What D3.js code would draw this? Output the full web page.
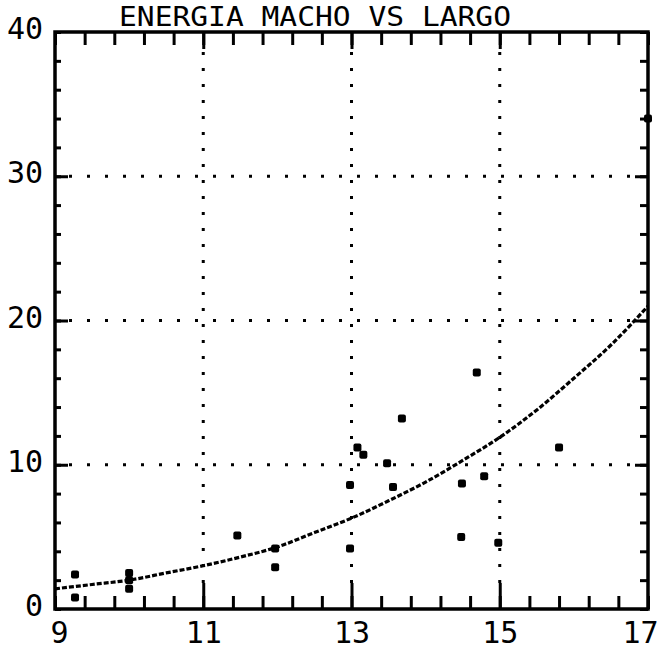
<!DOCTYPE html>
<html>
<head>
<meta charset="utf-8">
<script src="https://cdn.jsdelivr.net/npm/d3@7"></script>
<style>
  html, body { margin: 0; padding: 0; background: #fff; }
  svg { display: block; }
  .lbl { font-family: "DejaVu Sans Mono", "Liberation Mono", monospace; fill: #000; }
</style>
</head>
<body>
<div id="chart"></div>
<script>
// tick labels
const xTicks = [9, 11, 13, 15, 17];
const yTicks = [0, 10, 20, 30, 40];
const xGrid = [11, 13, 15];
const yGrid = [10, 20, 30];

// measured points (largo, energia)
const pointX = [9.27, 9.27, 10.0, 10.0, 10.0, 11.46, 11.97, 11.97, 12.98, 12.98, 13.08, 13.16,
  13.48, 13.56, 13.68, 14.49, 14.48, 14.69, 14.79, 14.98, 15.80, 17.0];
const pointY = [2.4, 0.8, 2.5, 2.0, 1.4, 5.1, 4.2, 2.9, 4.2, 8.6, 11.2, 10.7,
  10.1, 8.45, 13.2, 8.7, 5.0, 16.4, 9.2, 4.6, 11.2, 34.0];

// fitted curve
const curveX = [9.0, 9.5, 10.0, 10.5, 11.0, 11.5, 12.0, 12.5, 13.0, 13.5, 14.0, 14.5, 15.0, 15.5, 16.0, 16.5, 17.0];
const curveY = [1.4, 1.7, 2.0, 2.5, 3.0, 3.6, 4.3, 5.3, 6.3, 7.5, 8.8, 10.3, 11.9, 13.8, 16.0, 18.3, 21.0];

const W = 663, H = 653;
const box = { left: 55, right: 648, top: 32, bottom: 609 };

const svg = d3.select("#chart").append("svg")
  .attr("width", W)
  .attr("height", H);

const x = d3.scaleLinear().domain([9, 17]).range([box.left, box.right]);
const y = d3.scaleLinear().domain([0, 40]).range([box.bottom, box.top]);

// title
svg.append("text")
  .attr("class", "lbl")
  .attr("x", 315)
  .attr("y", 26)
  .attr("text-anchor", "middle")
  .attr("font-size", 27)
  .attr("textLength", 392)
  .attr("lengthAdjust", "spacingAndGlyphs")
  .text("ENERGIA MACHO VS LARGO");

// dotted grid
svg.append("g").selectAll("line")
  .data(xGrid)
  .enter()
  .append("line")
  .attr("x1", d => x(d)).attr("x2", d => x(d))
  .attr("y1", box.bottom - 26).attr("y2", box.top + 16)
  .attr("stroke", "#000").attr("stroke-width", 3)
  .attr("stroke-dasharray", "3 13");

svg.append("g").selectAll("line")
  .data(yGrid)
  .enter()
  .append("line")
  .attr("x1", box.left + 14).attr("x2", box.right - 14)
  .attr("y1", d => y(d)).attr("y2", d => y(d))
  .attr("stroke", "#000").attr("stroke-width", 3)
  .attr("stroke-dasharray", "3 15");

// minor / major ticks, all pointing into the box
const xMinor = d3.range(0, 21).map(i => 9 + i * 0.4);
const yMinor = d3.range(0, 21).map(i => i * 2);

function axisG(axis, tx, ty) {
  const g = svg.append("g")
    .attr("transform", `translate(${tx},${ty})`)
    .call(axis);
  g.select(".domain").remove();
  g.selectAll("text").remove();
  g.selectAll("line").attr("stroke", "#000").attr("stroke-width", 3);
  return g;
}

axisG(d3.axisBottom(x).tickValues(xMinor).tickSize(-13), 0, box.bottom);
axisG(d3.axisBottom(x).tickValues(xGrid).tickSize(-26), 0, box.bottom);
axisG(d3.axisTop(x).tickValues(xMinor).tickSize(-13), 0, box.top);
axisG(d3.axisTop(x).tickValues(xGrid).tickSize(-17), 0, box.top);
axisG(d3.axisLeft(y).tickValues(yMinor).tickSize(-6), box.left, 0);
axisG(d3.axisLeft(y).tickValues(yGrid).tickSize(-13), box.left, 0);
axisG(d3.axisRight(y).tickValues(yMinor).tickSize(-8), box.right, 0);
axisG(d3.axisRight(y).tickValues(yGrid).tickSize(-13), box.right, 0);

// frame
svg.append("rect")
  .attr("x", box.left).attr("y", box.top)
  .attr("width", box.right - box.left).attr("height", box.bottom - box.top)
  .attr("fill", "none")
  .attr("stroke", "#000")
  .attr("stroke-width", 3.5);

// tick labels
const xLab = svg.append("g")
  .attr("transform", `translate(0,${box.bottom})`)
  .call(d3.axisBottom(x).tickValues(xTicks).tickSize(0).tickPadding(12).tickFormat(d3.format("d")));
xLab.select(".domain").remove();
xLab.selectAll("text")
  .attr("class", "lbl")
  .attr("font-size", 30)
  .attr("dy", "0.72em")
  .attr("dx", d => d == 17 ? -8 : (d == 9 ? 4 : 0));

const yLab = svg.append("g")
  .attr("transform", `translate(${box.left},0)`)
  .call(d3.axisLeft(y).tickValues(yTicks).tickSize(0).tickPadding(12).tickFormat(d3.format("d")));
yLab.select(".domain").remove();
yLab.selectAll("text").attr("class", "lbl").attr("font-size", 30).attr("dy", "0.22em");

// fitted curve
const line = d3.line()
  .x((d, i) => x(curveX[i]))
  .y(d => y(d))
  .curve(d3.curveMonotoneX);

svg.append("path")
  .datum(curveY)
  .attr("d", line)
  .attr("fill", "none")
  .attr("stroke", "#000")
  .attr("stroke-width", 3.2)
  .attr("stroke-dasharray", "5 2");

// points
svg.append("g").selectAll("rect")
  .data(pointX)
  .enter()
  .append("rect")
  .attr("x", d => x(d) - 4)
  .attr("y", (d, i) => y(pointY[i]) - 4)
  .attr("width", 8)
  .attr("height", 8)
  .attr("rx", 2)
  .attr("fill", "#000");
</script>
</body>
</html>
